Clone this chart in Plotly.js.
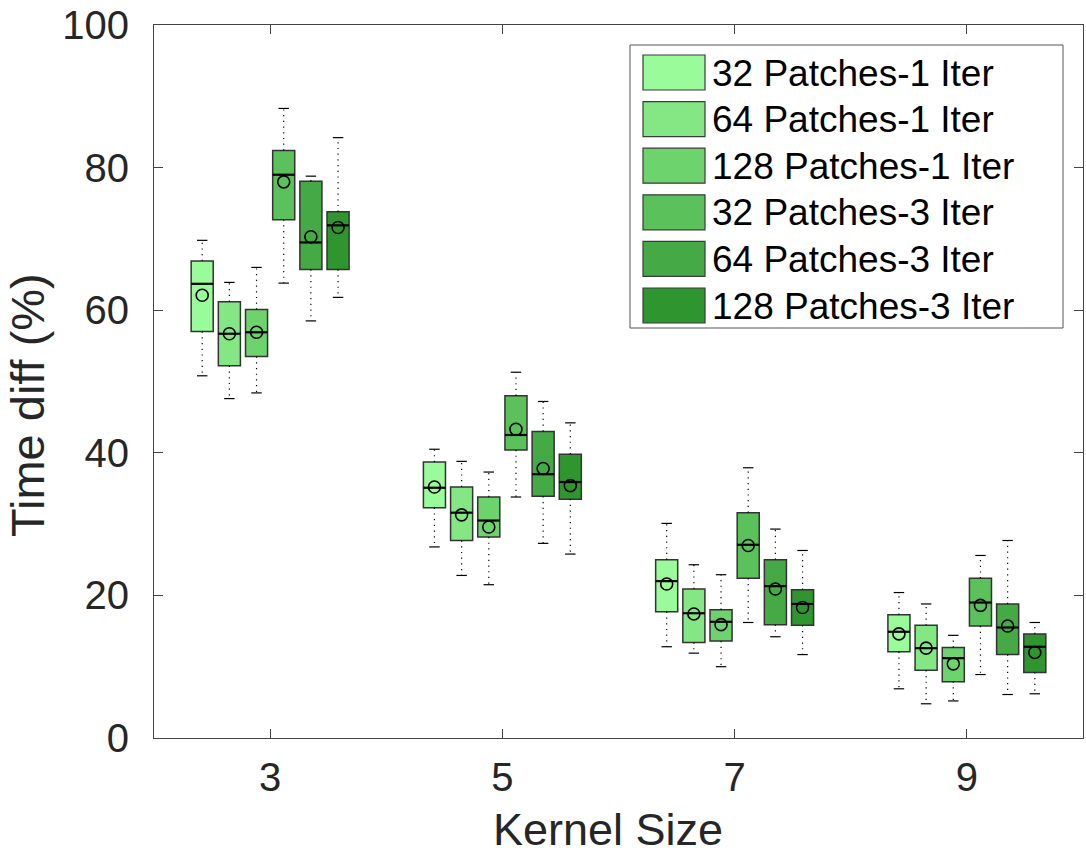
<!DOCTYPE html>
<html>
<head>
<meta charset="utf-8">
<script src="https://cdn.plot.ly/plotly-3.0.1.min.js"></script>
<style>html,body{margin:0;padding:0;background:#fff;}#chart{width:1086px;height:859px;}</style>
</head>
<body>
<div id="chart"></div>
<script>
// ---- data (one inner list per series, ordered by kernel size) ----
const kernels = [3, 5, 7, 9];
const tickLabels = ["3", "5", "7", "9"];
const seriesNames = ["32 Patches-1 Iter", "64 Patches-1 Iter", "128 Patches-1 Iter",
                     "32 Patches-3 Iter", "64 Patches-3 Iter", "128 Patches-3 Iter"];
const seriesColors = ["#99fb99", "#84e784", "#6dd36d", "#5bc15b", "#45aa45", "#2f962f"];
const upperWhisker = [
  [69.8, 40.5, 30.1, 20.4],
  [63.9, 38.8, 24.3, 18.8],
  [66.0, 37.3, 22.9, 14.4],
  [88.3, 51.3, 37.9, 25.6],
  [78.8, 47.2, 29.3, 27.7],
  [84.2, 44.2, 26.3, 16.2]
];
const q3 = [
  [66.9, 38.7, 25.0, 17.3],
  [61.2, 35.2, 20.9, 15.8],
  [60.1, 33.8, 18.0, 12.7],
  [82.4, 48.0, 31.6, 22.4],
  [78.1, 43.0, 25.0, 18.8],
  [73.8, 39.8, 20.8, 14.6]
];
const medians = [
  [63.7, 35.1, 22.0, 14.9],
  [56.7, 31.6, 17.5, 12.6],
  [56.9, 30.5, 16.3, 11.2],
  [79.0, 42.5, 27.1, 19.0],
  [69.5, 37.0, 21.3, 15.5],
  [71.9, 35.9, 18.8, 12.8]
];
const means = [
  [62.1, 35.2, 21.6, 14.6],
  [56.7, 31.3, 17.4, 12.6],
  [56.9, 29.6, 15.9, 10.4],
  [78.0, 43.3, 27.0, 18.6],
  [70.3, 37.8, 20.9, 15.7],
  [71.6, 35.4, 18.3, 12.0]
];
const q1 = [
  [57.0, 32.3, 17.7, 12.1],
  [52.2, 27.7, 13.4, 9.5],
  [53.5, 28.2, 13.6, 7.9],
  [72.7, 40.4, 22.4, 15.7],
  [65.7, 33.9, 15.9, 11.7],
  [65.7, 33.5, 15.8, 9.2]
];
const lowerWhisker = [
  [50.8, 26.8, 12.8, 6.9],
  [47.6, 22.8, 11.9, 4.8],
  [48.4, 21.5, 10.0, 5.2],
  [63.8, 33.8, 16.2, 8.9],
  [58.5, 27.3, 14.2, 6.1],
  [61.8, 25.8, 11.7, 6.2]
];
const xTitle = "Kernel Size";
const yTitle = "Time diff (%)";

// ---- layout constants ----
const W = 1086, H = 859;
const M = {l: 154, r: 3, t: 25, b: 121};
const step = 0.234, boxW = 0.19, capW = 0.09;
const textColor = "#262626";
const font = "Liberation Sans, Arial, Helvetica, sans-serif";

const traces = [];
seriesNames.forEach((name, i) => {
  const off = (i - 2.5) * step;
  const xs = kernels.map(k => k + off);
  // box body
  traces.push({
    type: "bar", name: name, x: xs,
    base: q1[i], y: q3[i].map((v, j) => v - q1[i][j]),
    width: boxW, marker: {color: seriesColors[i], line: {color: "#333", width: 1.5}},
    showlegend: false, hoverinfo: "skip"
  });
  const wx = [], wy = [], cx = [], cy = [], mx = [], my = [];
  xs.forEach((x, j) => {
    wx.push(x, x, null, x, x, null);
    wy.push(q3[i][j], upperWhisker[i][j], null, q1[i][j], lowerWhisker[i][j], null);
    cx.push(x - capW / 2, x + capW / 2, null, x - capW / 2, x + capW / 2, null);
    cy.push(upperWhisker[i][j], upperWhisker[i][j], null, lowerWhisker[i][j], lowerWhisker[i][j], null);
    mx.push(x - boxW / 2, x + boxW / 2, null);
    my.push(medians[i][j], medians[i][j], null);
  });
  traces.push({type: "scatter", mode: "lines", x: wx, y: wy, showlegend: false, hoverinfo: "skip",
               line: {color: "#000", width: 1.2, dash: "1.2px,4.5px"}});
  traces.push({type: "scatter", mode: "lines", x: cx, y: cy, showlegend: false, hoverinfo: "skip",
               line: {color: "#000", width: 1.2}});
  traces.push({type: "scatter", mode: "lines", x: mx, y: my, showlegend: false, hoverinfo: "skip",
               line: {color: "#000", width: 2.2}});
  traces.push({type: "scatter", mode: "markers", x: xs, y: means[i], showlegend: false,
               marker: {symbol: "circle-open", size: 12, color: "#000", line: {width: 1.6, color: "#000"}}});
});

// ---- custom MATLAB-style legend and titles (pixel -> paper conversion) ----
const pw = W - M.l - M.r, ph = H - M.t - M.b;
const px = v => (v - M.l) / pw;
const py = v => (H - M.b - v) / ph;
const shapes = [{
  type: "rect", xref: "paper", yref: "paper",
  x0: px(630), x1: px(1063), y0: py(328), y1: py(45),
  fillcolor: "#fff", line: {color: "#555", width: 1}
}];
const annotations = [];
seriesNames.forEach((name, i) => {
  const top = 55 + 46.6 * i;
  shapes.push({type: "rect", xref: "paper", yref: "paper",
    x0: px(643), x1: px(705), y0: py(top + 35), y1: py(top),
    fillcolor: seriesColors[i], line: {color: "#3a3a3a", width: 1.2}});
  annotations.push({xref: "paper", yref: "paper", x: px(710), y: py(top + 18),
    xanchor: "left", yanchor: "middle", showarrow: false, text: name,
    font: {family: font, size: 37, color: "#000"}});
});
annotations.push({xref: "paper", yref: "paper", x: px(608), y: py(829),
  xanchor: "center", yanchor: "middle", showarrow: false, text: xTitle,
  font: {family: font, size: 45, color: textColor}});
annotations.push({xref: "paper", yref: "paper", x: px(27), y: py(405),
  xanchor: "center", yanchor: "middle", showarrow: false, text: yTitle, textangle: -90,
  font: {family: font, size: 47, color: textColor}});

const layout = {
  width: W, height: H, margin: M,
  paper_bgcolor: "#fff", plot_bgcolor: "#fff",
  barmode: "overlay", showlegend: false,
  font: {family: font, color: textColor},
  xaxis: {
    range: [2, 10], tickvals: kernels, ticktext: tickLabels,
    ticks: "inside", ticklen: 9, tickcolor: "#444", mirror: "ticks",
    showline: true, linecolor: "#444", linewidth: 1, showgrid: false, zeroline: false,
    tickfont: {size: 40, color: textColor, family: font}, ticklabelstandoff: 4
  },
  yaxis: {
    range: [0, 100], tickvals: [0, 20, 40, 60, 80, 100],
    ticks: "inside", ticklen: 9, tickcolor: "#444", mirror: "ticks",
    showline: true, linecolor: "#444", linewidth: 1, showgrid: false, zeroline: false,
    tickfont: {size: 40, color: textColor, family: font}, ticklabelstandoff: 16
  },
  shapes: shapes, annotations: annotations
};

Plotly.newPlot("chart", traces, layout, {staticPlot: true, displayModeBar: false});
</script>
</body>
</html>
